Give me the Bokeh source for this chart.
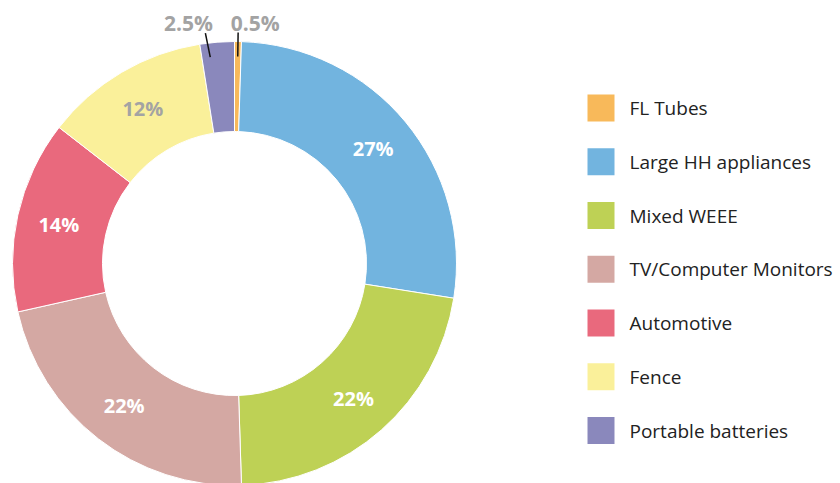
import math
from bokeh.plotting import figure
from bokeh.models import Range1d, ColumnDataSource
from bokeh.core.properties import value
from bokeh.embed import file_html
from bokeh.resources import INLINE

categories = ["FL Tubes", "Large HH appliances", "Mixed WEEE", "TV/Computer Monitors",
              "Automotive", "Fence", "Portable batteries"]
shares = [0.5, 27, 22, 22, 14, 12, 2.5]
labels = ["0.5%", "27%", "22%", "22%", "14%", "12%", "2.5%"]
colors = ["#F8B95A", "#72B4DF", "#BED155", "#D4A8A3", "#E9697D", "#FAF09A", "#8A88BC"]
label_colors = ["#A3A3A3", "white", "white", "white", "white", "#A3A3A3", "#A3A3A3"]
outside = [True, False, False, False, False, False, True]

W, H = 840, 483
CX, CY = 234, 220
R_OUT, R_IN = 222, 132
FONT = "Open Sans"

total = sum(shares)
starts, ends, mids = [], [], []
acc = 0.0
for s in shares:
    a0 = math.pi / 2 - 2 * math.pi * acc / total
    acc += s
    a1 = math.pi / 2 - 2 * math.pi * acc / total
    starts.append(a1)
    ends.append(a0)
    mids.append((a0 + a1) / 2)

p = figure(width=W, height=H, output_backend="svg", toolbar_location=None,
           x_range=Range1d(0, W), y_range=Range1d(0, H), min_border=0)
p.axis.visible = False
p.grid.visible = False
p.outline_line_color = None
p.background_fill_color = "white"
p.border_fill_color = "white"

src = ColumnDataSource(dict(start=starts, end=ends, color=colors))
p.annular_wedge(x=CX, y=CY, inner_radius=R_IN, outer_radius=R_OUT,
                start_angle="start", end_angle="end", color="color",
                line_color="white", line_width=1, source=src)

lx, ly, lt, lc = [], [], [], []
ox, oy, ot = [], [], []
lines_x, lines_y = [], []
# styling offsets for the outer labels
line_shift = {0: 0, 6: -8}
text_dx = {0: 17, 6: -17}
for i, lab in enumerate(labels):
    m = mids[i]
    if outside[i]:
        x0 = CX + (R_OUT - 15) * math.cos(m) + line_shift[i]
        y0 = CY + (R_OUT - 15) * math.sin(m)
        x1 = CX + (R_OUT + 9) * math.cos(m) + line_shift[i] - (3 if i == 6 else 0)
        y1 = CY + (R_OUT + 9) * math.sin(m)
        lines_x.append([x0, x1])
        lines_y.append([y0, y1])
        ox.append(x1 + text_dx[i])
        oy.append(y1 + 10)
        ot.append(lab)
    else:
        rr = 180
        lx.append(CX + rr * math.cos(m))
        ly.append(CY + rr * math.sin(m))
        lt.append(lab)
        lc.append(label_colors[i])

p.text(x=lx, y=ly, text=lt, text_color=lc, text_font=value(FONT),
       text_font_style="bold", text_font_size="20px",
       text_align="center", text_baseline="middle")
p.multi_line(xs=lines_x, ys=lines_y, line_color="#111111", line_width=1.5)
p.text(x=ox, y=oy, text=ot, text_color="#A3A3A3", text_font=value(FONT),
       text_font_style="bold", text_font_size="21px",
       text_align="center", text_baseline="middle")

# legend
leg_x = 600.5
leg_y0 = H - 107.5
step = 53.75
ys = [leg_y0 - k * step for k in range(len(categories))]
p.rect(x=[leg_x] * len(categories), y=ys, width=27, height=27, color=colors,
       line_color=None)
p.text(x=[629] * len(categories), y=ys, text=categories, text_color="#222222",
       text_font=value(FONT), text_font_size="19px",
       text_align="left", text_baseline="middle")

open("out.html", "w").write(file_html(p, INLINE))
